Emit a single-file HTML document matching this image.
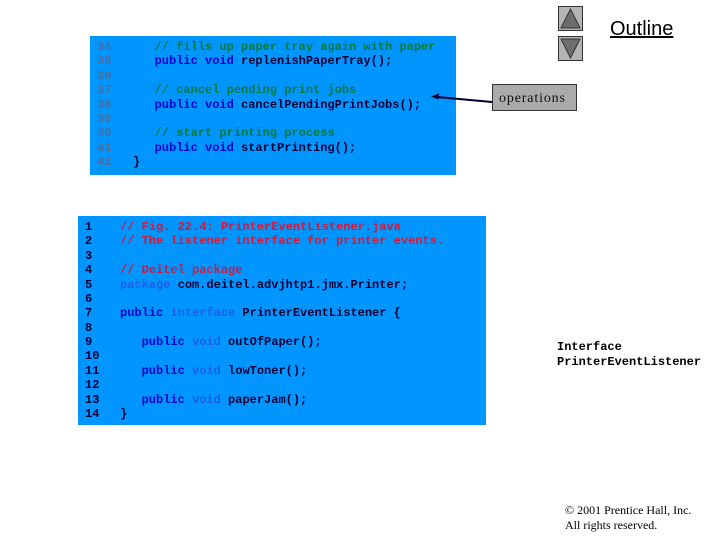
<!DOCTYPE html>
<html>
<head>
<meta charset="utf-8">
<style>
html,body{margin:0;padding:0;background:#fff;}
#p{position:relative;width:720px;height:540px;overflow:hidden;background:#fff;}
.b{position:absolute;background:#0095ff;}
pre{position:absolute;margin:0;font:bold 12px/14.37px "Liberation Mono",monospace;color:#000;white-space:pre;}
.g{color:#007a3d}.k{color:#0000cc}.l{color:#1a5fe8}.r{color:#d41a3a}.n{color:#4a6f9c}.d{color:#000033}
.t{position:absolute;white-space:pre;}
</style>
</head>
<body>
<div id="p">
<div class="b" style="left:90px;top:36px;width:366px;height:139px;"></div>
<div class="b" style="left:78px;top:216px;width:408px;height:209px;"></div>

<pre class="n" style="left:97px;top:40px;">34
35
36
37
38
39
40
41
42</pre>
<pre class="d" style="left:133px;top:40px;">   <span class="g">// fills up paper tray again with paper</span>
   <span class="k">public void</span> replenishPaperTray();

   <span class="g">// cancel pending print jobs</span>
   <span class="k">public void</span> cancelPendingPrintJobs();

   <span class="g">// start printing process</span>
   <span class="k">public void</span> startPrinting();
}</pre>

<pre class="d" style="left:85px;top:220px;">1
2
3
4
5
6
7
8
9
10
11
12
13
14</pre>
<pre class="d" style="left:120px;top:220px;"><span class="r">// Fig. 22.4: PrinterEventListener.java</span>
<span class="r">// The listener interface for printer events.</span>

<span class="r">// Deitel package</span>
<span class="l">package</span> com.deitel.advjhtp1.jmx.Printer;

<span class="k">public</span> <span class="l">interface</span> PrinterEventListener {

   <span class="k">public</span> <span class="l">void</span> outOfPaper();

   <span class="k">public</span> <span class="l">void</span> lowToner();

   <span class="k">public</span> <span class="l">void</span> paperJam();
}</pre>

<svg style="position:absolute;left:0;top:0" width="720" height="540">
  <rect x="558.5" y="6.5" width="24" height="24" fill="#b4b4b4" stroke="#333"/>
  <polygon points="570.5,9 561,28 580,28" fill="#6e6e6e" stroke="#333"/>
  <rect x="558.5" y="36.5" width="24" height="24" fill="#b4b4b4" stroke="#333"/>
  <polygon points="570.5,58 561,39 580,39" fill="#6e6e6e" stroke="#333"/>
  <rect x="492.5" y="84.5" width="84" height="26" fill="#aaaaaa" stroke="#333"/>
  <line x1="492" y1="102" x2="437" y2="97" stroke="#000033" stroke-width="2"/>
  <polygon points="431,96.5 439,93.5 438.5,99.5" fill="#000033"/>
</svg>

<div class="t" style="left:499px;top:91px;font:14px/16px 'Liberation Serif',serif;letter-spacing:.85px;color:#111;">operations</div>
<div class="t" style="left:610px;top:17px;font:20px/24px 'Liberation Sans',sans-serif;color:#000;text-decoration:underline;">Outline</div>
<div class="t" style="left:557px;top:340px;font:bold 12px/15px 'Liberation Mono',monospace;color:#000;">Interface
PrinterEventListener</div>
<div class="t" style="left:565px;top:503px;font:12px/15px 'Liberation Serif',serif;color:#000;">© 2001 Prentice Hall, Inc.
All rights reserved.</div>
</div>
</body>
</html>
